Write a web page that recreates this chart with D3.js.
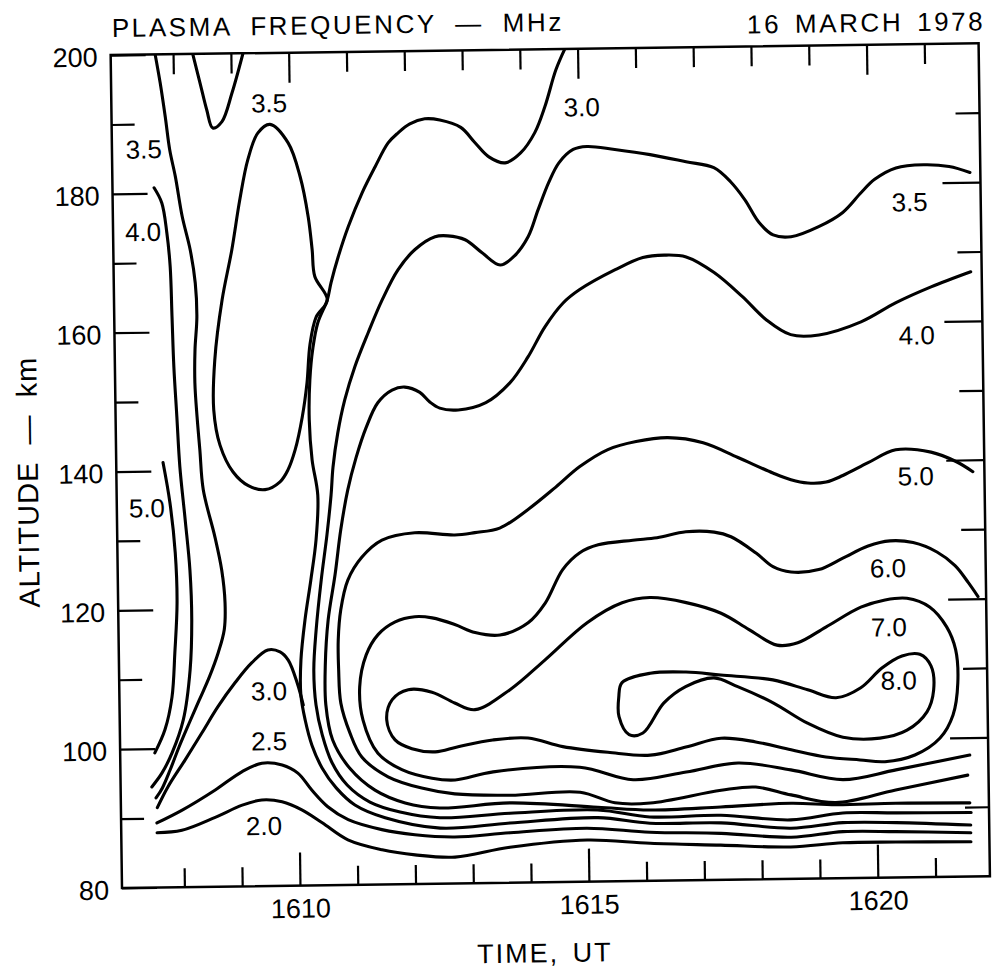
<!DOCTYPE html>
<html><head><meta charset="utf-8">
<script src="https://cdn.jsdelivr.net/npm/d3@7/dist/d3.min.js"></script>
<style>body{margin:0;background:#fff}svg{display:block}</style>
</head><body>
<script>
// ---------- data (time in UT minutes as HHMM-style decimal, altitude in km) ----------
const timeDomain = [1606.92, 1621.94];
const altDomain = [80, 200];
const timeMinorTicks = [1608,1609,1611,1612,1613,1614,1616,1617,1618,1619,1621];
const timeMajorTicks = [1610,1615,1620];
const altMajorTicks = [80,100,120,140,160,180,200];
const altMinorTicks = [90,110,130,150,170,190];

const c35top = [[1608.34,200],[1608.46,195.8],[1608.57,191.9],[1608.67,189.3],[1608.83,190.2],[1609.01,194.3],[1609.21,200]];
const c35left = [[1607.69,200],[1607.77,195.9],[1607.85,191.0],[1607.92,186.2],[1608.01,182.4],[1608.12,176.6],[1608.25,171.8],[1608.33,167.0],[1608.35,162.1],[1608.31,157.4],[1608.30,152.6],[1608.33,147.7],[1608.37,143.0],[1608.42,137.2],[1608.61,130.4],[1608.72,125.6],[1608.77,120.9],[1608.75,117.0],[1608.64,113.7],[1608.48,110.2],[1608.30,106.9],[1608.12,103.6],[1607.94,100.2],[1607.78,96.9],[1607.64,94.3],[1607.53,92.9]];
const c40left = [[1607.64,180.8],[1607.77,178.6],[1607.85,174.3],[1607.90,169.4],[1607.92,162.2],[1607.94,155.0],[1607.98,147.8],[1608.02,140.6],[1608.10,132.9],[1608.17,125.7],[1608.19,118.5],[1608.15,111.3],[1608.02,104.1],[1607.82,99.4],[1607.64,96.5],[1607.46,94.5]];
const c50left = [[1607.73,141.2],[1607.84,135.4],[1607.92,128.2],[1607.94,121.0],[1607.89,113.8],[1607.83,107.4],[1607.70,102.7],[1607.52,99.4]];
const c30hump = [[1607.55,91.5],[1607.74,94.5],[1608.04,98.3],[1608.34,102.2],[1608.62,105.9],[1608.92,109.3],[1609.22,112.2],[1609.50,114.0],[1609.71,113.7],[1609.85,112.5],[1610.00,109.2],[1610.10,106.0]];
const c25 = [[1607.54,89.3],[1607.98,91.1],[1608.55,93.9],[1609.02,96.5],[1609.37,97.7],[1609.72,97.4],[1609.99,96.2],[1610.23,93.7],[1610.50,91.3],[1610.85,89.4],[1611.43,87.9],[1612.00,87.1],[1612.69,86.7],[1613.65,87.2],[1614.98,87.7],[1616.07,87.0],[1617.30,86.7],[1618.51,86.0],[1619.41,86.7],[1620.32,86.6],[1621.62,86.3]];
const c20 = [[1607.54,87.9],[1607.97,88.2],[1608.55,90.0],[1609.02,91.7],[1609.36,92.4],[1609.71,92.1],[1610.05,90.9],[1610.40,89.0],[1610.84,86.5],[1611.43,85.0],[1612.00,84.2],[1612.69,83.8],[1613.64,85.1],[1614.98,86.0],[1616.07,85.4],[1617.29,85.0],[1618.50,84.6],[1619.40,85.1],[1620.32,85.1],[1621.62,85.0]];
const c35loop = [[1609.66,189.7],[1609.97,187.0],[1610.17,182.1],[1610.30,176.3],[1610.36,171.6],[1610.40,167.7],[1610.61,164.3],[1610.41,161.8],[1610.30,157.9],[1610.24,152.4],[1610.15,147.5],[1610.02,142.8],[1609.89,139.9],[1609.75,138.2],[1609.49,137.1],[1609.20,137.7],[1608.94,139.7],[1608.72,143.6],[1608.62,148.7],[1608.65,155.9],[1608.79,164.5],[1608.97,171.7],[1609.12,178.9],[1609.27,184.7],[1609.45,188.5]];
const c30 = [[1614.78,200],[1614.62,197.0],[1614.42,191.7],[1614.24,188.0],[1613.99,185.1],[1613.72,183.7],[1613.44,184.6],[1613.20,186.7],[1612.96,188.9],[1612.60,190.0],[1612.34,190.2],[1612.08,189.5],[1611.87,188.2],[1611.70,186.8],[1611.47,183.4],[1611.24,179.7],[1610.99,174.8],[1610.81,170.5],[1610.68,166.8],[1610.61,164.3],[1610.44,161.0],[1610.35,157.4],[1610.29,152.8],[1610.27,147.1],[1610.31,141.3],[1610.40,136.2],[1610.36,129.8],[1610.26,124.0],[1610.15,118.3],[1610.07,112.5],[1610.06,107.5],[1610.13,103.8],[1610.24,100.2],[1610.41,96.9],[1610.65,94.0],[1610.97,91.5],[1611.49,89.6],[1612.44,88.0],[1613.65,88.6],[1615.17,89.2],[1616.07,88.3],[1617.30,88.2],[1618.51,87.3],[1619.41,88.0],[1620.33,87.9],[1621.62,87.4]];
const c35 = [[1621.76,181.4],[1621.40,182.3],[1620.96,182.6],[1620.48,182.2],[1620.11,180.6],[1619.87,178.7],[1619.55,175.9],[1619.13,173.9],[1618.65,172.5],[1618.34,172.8],[1618.10,174.6],[1617.86,177.9],[1617.62,180.5],[1617.33,182.6],[1616.85,183.5],[1616.23,184.6],[1615.62,185.4],[1615.14,185.9],[1614.90,185.5],[1614.65,183.6],[1614.47,180.8],[1614.28,176.9],[1614.10,173.0],[1613.85,170.2],[1613.61,169.0],[1613.30,170.8],[1613.01,172.7],[1612.71,173.3],[1612.49,173.2],[1612.14,171.4],[1611.84,168.5],[1611.56,164.2],[1611.31,159.5],[1611.07,154.6],[1610.89,149.9],[1610.76,145.1],[1610.67,140.2],[1610.63,136.2],[1610.55,130.5],[1610.44,124.0],[1610.34,116.8],[1610.29,111.0],[1610.32,106.0],[1610.42,101.7],[1610.58,97.7],[1610.84,94.4],[1611.23,91.9],[1611.75,90.4],[1612.44,89.5],[1613.65,90.0],[1615.17,90.3],[1616.07,89.2],[1617.30,89.3],[1618.51,88.5],[1619.41,89.4],[1620.33,89.3],[1621.63,89.2]];
const c40 = [[1621.75,167.1],[1621.06,165.0],[1620.45,162.8],[1619.84,160.1],[1619.11,158.3],[1618.62,158.4],[1618.20,160.6],[1617.79,164.0],[1617.31,167.5],[1616.83,169.8],[1616.45,170.1],[1616.08,169.8],[1615.60,168.1],[1614.98,165.3],[1614.69,163.4],[1614.37,160.0],[1614.07,155.7],[1613.75,152.0],[1613.33,149.2],[1612.85,148.2],[1612.53,148.5],[1612.36,149.4],[1612.19,150.8],[1611.93,151.6],[1611.71,151.2],[1611.46,149.4],[1611.25,145.8],[1611.07,141.5],[1610.92,136.9],[1610.79,131.2],[1610.68,124.7],[1610.55,118.2],[1610.49,111.7],[1610.49,106.0],[1610.60,100.9],[1610.89,96.8],[1611.32,93.6],[1611.84,91.7],[1612.44,90.9],[1613.65,91.5],[1615.17,90.7],[1616.07,90.2],[1617.30,90.5],[1618.52,90.9],[1619.29,90.6],[1620.33,90.7],[1621.61,90.6]];
const c50 = [[1621.74,138.3],[1621.45,139.8],[1621.02,141.2],[1620.41,141.6],[1619.93,139.8],[1619.49,138.0],[1619.20,137.1],[1618.88,137.0],[1618.59,137.5],[1618.28,138.5],[1617.68,140.8],[1617.08,143.0],[1616.47,143.8],[1615.92,143.3],[1615.43,142.2],[1614.94,139.8],[1614.52,136.9],[1614.03,133.7],[1613.54,131.1],[1613.11,130.5],[1612.76,130.2],[1612.07,130.6],[1611.50,129.6],[1611.15,127.2],[1610.90,123.9],[1610.77,119.6],[1610.72,115.3],[1610.72,111.0],[1610.75,106.2],[1610.90,101.9],[1611.10,98.4],[1611.55,95.5],[1612.13,93.8],[1612.70,92.9],[1613.66,92.6],[1614.87,92.9],[1615.47,91.3],[1616.08,91.2],[1617.31,92.9],[1617.91,93.3],[1618.52,92.1],[1619.29,90.9],[1620.33,92.6],[1621.58,94.6]];
const c60 = [[1621.80,120.3],[1621.63,122.4],[1621.41,124.8],[1621.10,126.8],[1620.69,128.2],[1620.29,128.5],[1619.91,127.8],[1619.47,126.1],[1619.05,124.5],[1618.57,124.2],[1618.26,125.0],[1617.97,127.0],[1617.54,129.4],[1617.25,130.1],[1616.76,130.2],[1616.26,129.4],[1615.84,129.1],[1615.24,128.5],[1614.92,127.4],[1614.62,125.0],[1614.31,120.2],[1614.01,117.4],[1613.52,115.7],[1613.09,116.1],[1612.74,117.3],[1612.35,118.3],[1612.05,118.5],[1611.71,117.8],[1611.41,116.0],[1611.20,113.1],[1611.08,108.5],[1611.13,103.7],[1611.38,98.9],[1611.79,96.5],[1612.31,95.2],[1612.71,94.9],[1613.37,96.0],[1614.87,96.5],[1615.79,94.6],[1616.71,95.6],[1617.61,96.8],[1618.52,95.7],[1619.42,94.2],[1620.34,95.5],[1621.62,97.5]];
const c70 = [[1611.54,103.7],[1611.64,106.6],[1611.92,108.0],[1612.33,107.6],[1612.72,106.0],[1613.07,105.0],[1613.68,107.8],[1614.29,112.0],[1615.03,117.3],[1615.64,120.1],[1616.12,120.8],[1616.75,120.0],[1617.35,118.4],[1617.83,116.0],[1618.31,113.7],[1618.67,114.0],[1619.16,116.2],[1619.77,119.0],[1620.19,120.0],[1620.57,120.2],[1620.96,118.9],[1621.25,116.0],[1621.40,112.7],[1621.43,107.9],[1621.34,103.3],[1621.11,100.0],[1620.67,97.6],[1620.15,96.7],[1619.72,97.0],[1619.13,97.5],[1618.53,98.6],[1617.92,99.8],[1617.32,100.4],[1616.71,99.2],[1616.09,98.1],[1615.36,98.6],[1614.58,99.5],[1613.98,100.8],[1613.37,100.6],[1612.77,99.7],[1612.37,99.0],[1611.97,99.5],[1611.68,100.8]];
const c80 = [[1615.62,108.6],[1616.11,109.9],[1616.73,110.0],[1617.33,109.5],[1618.23,108.7],[1618.83,107.2],[1619.32,106.0],[1619.75,107.4],[1620.12,110.2],[1620.47,111.9],[1620.78,112.1],[1620.97,110.4],[1621.01,106.9],[1620.89,103.8],[1620.54,101.2],[1620.07,100.1],[1619.43,100.3],[1618.82,102.4],[1618.23,105.4],[1617.62,107.8],[1617.21,109.1],[1616.72,107.9],[1616.34,105.6],[1615.97,101.3],[1615.73,101.1],[1615.56,103.7],[1615.56,106.5]];

const openContours = [c35top, c35left, c40left, c50left, c30hump, c25, c20, c30, c35, c40, c50, c60];
const closedContours = [c35loop, c70, c80];

const labelText = ["3.5","3.0","3.5","4.0","5.0","3.5","4.0","5.0","6.0","7.0","8.0","3.0","2.5","2.0"];
const labelTime = [1609.65,1615.06,1607.47,1607.44,1607.44,1620.71,1620.80,1620.75,1620.25,1620.25,1620.41,1609.51,1609.50,1609.39];
const labelAlt  = [192.8,191.6,186.4,174.5,134.7,177.3,158.1,137.8,124.6,116.1,108.4,108.1,100.9,88.7];

// ---------- drawing ----------
const W = 996, H = 974;
const svg = d3.select("body").append("svg").attr("width", W).attr("height", H);
svg.append("rect").attr("width", W).attr("height", H).attr("fill", "#fff");
const FONT = "'Liberation Sans', Arial, Helvetica, sans-serif";
const root = svg.append("g").attr("transform", "rotate(-0.78,122,888)");

const x = d3.scaleLinear().domain(timeDomain).range([122, 990]);
const y = d3.scaleLinear().domain(altDomain).range([888, 55]);

root.append("clipPath").attr("id","plotclip").append("rect")
  .attr("x", 122).attr("y", 55).attr("width", 868).attr("height", 833);

function styleAxis(g, lw) {
  g.select(".domain").remove();
  g.selectAll("line").attr("stroke", "#000").attr("stroke-width", lw);
  g.attr("font-family", FONT);
}
const tfmt = d3.format("d");
root.append("g").attr("transform","translate(0,888)")
  .call(d3.axisBottom(x).tickValues(timeMinorTicks).tickSize(-19).tickFormat(""))
  .call(g => styleAxis(g, 2.2));
root.append("g").attr("transform","translate(0,888)")
  .call(d3.axisBottom(x).tickValues(timeMajorTicks).tickSize(-33).tickPadding(13).tickFormat(tfmt))
  .call(g => { styleAxis(g, 2.2); g.selectAll("text").attr("font-size", 27).attr("fill","#000"); });
root.append("g").attr("transform","translate(0,55)")
  .call(d3.axisTop(x).tickValues(timeMinorTicks).tickSize(-20).tickFormat(""))
  .call(g => styleAxis(g, 2.2));
root.append("g").attr("transform","translate(0,55)")
  .call(d3.axisTop(x).tickValues(timeMajorTicks).tickSize(-30).tickFormat(""))
  .call(g => styleAxis(g, 2.2));
root.append("g").attr("transform","translate(122,0)")
  .call(d3.axisLeft(y).tickValues(altMinorTicks).tickSize(-23).tickFormat(""))
  .call(g => styleAxis(g, 2.2));
root.append("g").attr("transform","translate(122,0)")
  .call(d3.axisLeft(y).tickValues(altMajorTicks).tickSize(-35).tickPadding(13).tickFormat(tfmt))
  .call(g => { styleAxis(g, 2.2); g.selectAll("text").attr("font-size", 27).attr("fill","#000").attr("dy","0.4em"); });
root.append("g").attr("transform","translate(990,0)")
  .call(d3.axisRight(y).tickValues(altMinorTicks).tickSize(-24).tickFormat(""))
  .call(g => styleAxis(g, 2.2));
root.append("g").attr("transform","translate(990,0)")
  .call(d3.axisRight(y).tickValues(altMajorTicks.filter(v => v > 80 && v < 200)).tickSize(-38).tickFormat(""))
  .call(g => styleAxis(g, 2.2));

root.append("rect").attr("x", 122).attr("y", 55).attr("width", 868).attr("height", 833)
  .attr("fill", "none").attr("stroke", "#000").attr("stroke-width", 2.5);

const lineOpen = d3.line().x(d => x(d[0])).y(d => y(d[1])).curve(d3.curveCatmullRom.alpha(0.5));
const lineClosed = d3.line().x(d => x(d[0])).y(d => y(d[1])).curve(d3.curveCatmullRomClosed.alpha(0.5));
const cg = root.append("g").attr("clip-path", "url(#plotclip)")
  .attr("fill", "none").attr("stroke", "#000").attr("stroke-width", 3.1)
  .attr("stroke-linejoin", "round").attr("stroke-linecap", "round");
cg.selectAll("path.open").data(openContours).join("path").attr("class","open").attr("d", lineOpen);
cg.selectAll("path.closed").data(closedContours).join("path").attr("class","closed").attr("d", lineClosed);

root.append("g").selectAll("text").data(labelText).join("text")
  .attr("x", (d, i) => x(labelTime[i])).attr("y", (d, i) => y(labelAlt[i]))
  .attr("dy", "0.36em").attr("text-anchor", "middle")
  .attr("font-family", FONT).attr("font-size", 26).attr("fill", "#000")
  .text(d => d);

root.append("text").attr("x", 123.5).attr("y", 37)
  .attr("font-family", FONT).attr("font-size", 26).attr("letter-spacing", 2.6).attr("word-spacing", 9)
  .attr("fill", "#000").text("PLASMA FREQUENCY — MHz");
root.append("text").attr("x", 997).attr("y", 42).attr("text-anchor", "end")
  .attr("font-family", FONT).attr("font-size", 26).attr("letter-spacing", 2.6).attr("word-spacing", 4)
  .attr("fill", "#000").text("16 MARCH 1978");
root.append("text").attr("transform", "translate(43.5,481) rotate(-90)").attr("text-anchor", "middle")
  .attr("font-family", FONT).attr("font-size", 29).attr("letter-spacing", 1).attr("word-spacing", 8)
  .attr("fill", "#000").text("ALTITUDE — km");
root.append("text").attr("x", 544).attr("y", 968).attr("text-anchor", "middle")
  .attr("font-family", FONT).attr("font-size", 27).attr("letter-spacing", 2).attr("word-spacing", 4)
  .attr("fill", "#000").text("TIME, UT");
</script>
</body></html>
